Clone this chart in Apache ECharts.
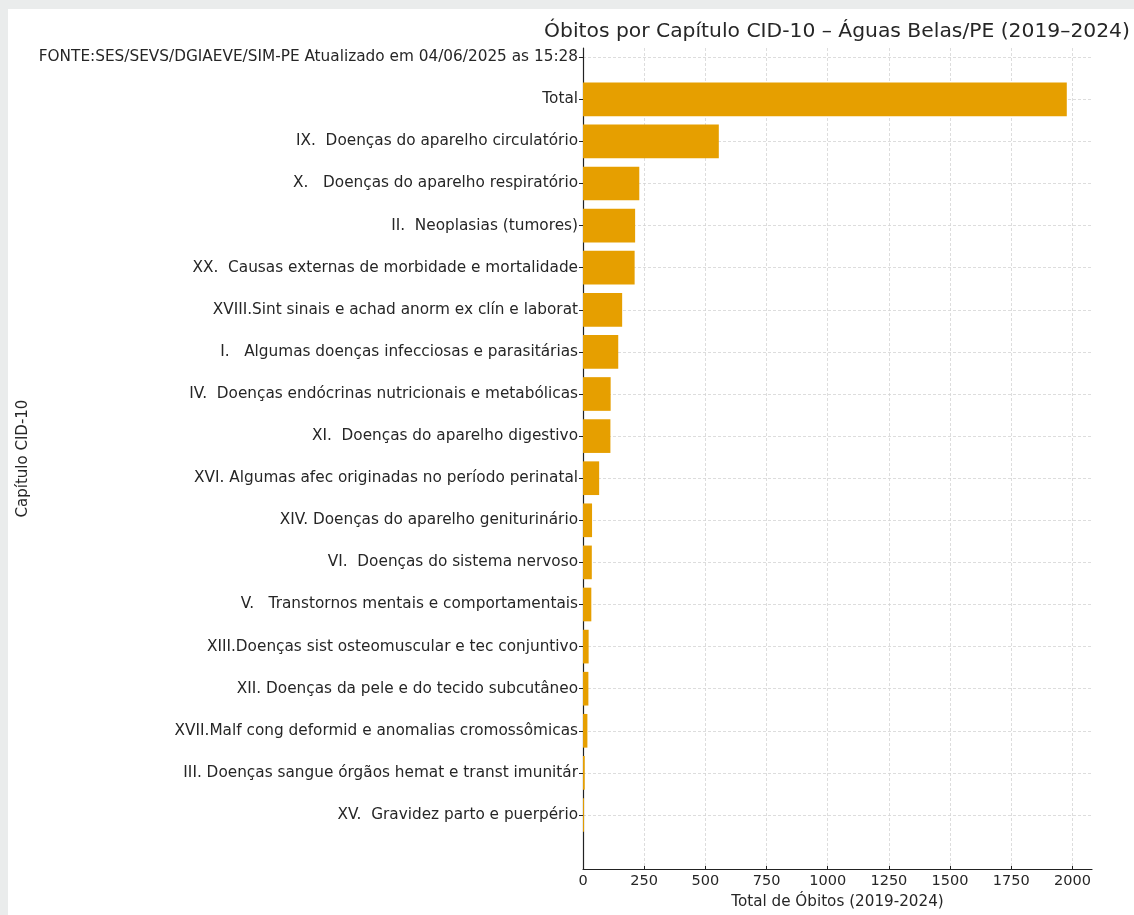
<!DOCTYPE html>
<html>
<head>
<meta charset="utf-8">
<script src="https://cdn.jsdelivr.net/npm/echarts@6/dist/echarts.min.js"></script>
<style>
html,body{margin:0;padding:0;background:#eaecec;width:1134px;height:915px;overflow:hidden;}
#card{position:absolute;left:8px;top:9px;right:0;bottom:0;background:#ffffff;}
#chart{position:absolute;left:0;top:0;width:1134px;height:915px;}
</style>
</head>
<body>
<div id="card"></div>
<div id="chart"></div>
<script>
// ---- data (top to bottom) ----
const categories = [
  "FONTE:SES/SEVS/DGIAEVE/SIM-PE Atualizado em 04/06/2025 as 15:28",
  "Total",
  "IX.  Doenças do aparelho circulatório",
  "X.   Doenças do aparelho respiratório",
  "II.  Neoplasias (tumores)",
  "XX.  Causas externas de morbidade e mortalidade",
  "XVIII.Sint sinais e achad anorm ex clín e laborat",
  "I.   Algumas doenças infecciosas e parasitárias",
  "IV.  Doenças endócrinas nutricionais e metabólicas",
  "XI.  Doenças do aparelho digestivo",
  "XVI. Algumas afec originadas no período perinatal",
  "XIV. Doenças do aparelho geniturinário",
  "VI.  Doenças do sistema nervoso",
  "V.   Transtornos mentais e comportamentais",
  "XIII.Doenças sist osteomuscular e tec conjuntivo",
  "XII. Doenças da pele e do tecido subcutâneo",
  "XVII.Malf cong deformid e anomalias cromossômicas",
  "III. Doenças sangue órgãos hemat e transt imunitár",
  "XV.  Gravidez parto e puerpério"
];
const obitos = [0, 1977, 555, 230, 213, 211, 160, 144, 113, 112, 66, 37, 36, 34, 23, 22, 18, 7, 4];
const xTickValues = [0, 250, 500, 750, 1000, 1250, 1500, 1750, 2000];
const titleText = "Óbitos por Capítulo CID-10 – Águas Belas/PE (2019–2024)";
const xAxisTitle = "Total de Óbitos (2019-2024)";
const yAxisTitle = "Capítulo CID-10";

// ---- layout ----
const FONT = "DejaVu Sans";
const TXT = "#262626";
const AX_LEFT = 583, AX_W = 509;
const BAND = 42.1;
const FIRST_CENTER = 57.2;
const X_MAX = 2080;
const SPINE_TOP = 48, SPINE_BOTTOM = 869;
const gridLine = {color: "#d4d4d4", width: 0.8, type: [3, 2]};

const chart = echarts.init(document.getElementById("chart"), null, {renderer: "canvas"});
const n = categories.length;

const option = {
  backgroundColor: "transparent",
  animation: false,
  textStyle: {fontFamily: FONT},
  title: {
    text: titleText,
    left: 832,
    top: 17,
    textAlign: "center",
    textStyle: {fontFamily: FONT, fontSize: 20.3, fontWeight: "normal", color: TXT}
  },
  grid: [
    {left: AX_LEFT, width: AX_W, top: FIRST_CENTER - BAND / 2, height: BAND * n, outerBoundsMode: "none", containLabel: false},
    {left: AX_LEFT, width: AX_W, top: SPINE_TOP, height: SPINE_BOTTOM - SPINE_TOP, outerBoundsMode: "none", containLabel: false},
    {left: AX_LEFT, width: AX_W, top: FIRST_CENTER, height: BAND * (n - 1), outerBoundsMode: "none", containLabel: false}
  ],
  xAxis: [
    {gridIndex: 0, type: "value", min: 0, max: X_MAX, show: false},
    {
      gridIndex: 1, type: "value", min: 0, max: X_MAX,
      name: xAxisTitle, nameLocation: "middle", nameGap: 26,
      nameTextStyle: {fontFamily: FONT, fontSize: 15.2, color: TXT},
      axisLine: {show: true, lineStyle: {color: "#222", width: 1.2}},
      axisTick: {show: true, inside: true, length: 3, customValues: xTickValues, lineStyle: {color: "#222"}},
      axisLabel: {fontFamily: FONT, fontSize: 14.5, color: TXT, margin: 5, customValues: xTickValues,
        formatter: v => String(v)},
      splitLine: {show: true, lineStyle: gridLine}
    },
    {gridIndex: 2, type: "value", min: 0, max: X_MAX, show: false}
  ],
  yAxis: [
    {
      gridIndex: 0, type: "category", inverse: true, data: categories,
      axisLine: {show: false},
      axisTick: {show: true, alignWithLabel: true, length: 4, interval: 0, lineStyle: {color: "#222"}},
      axisLabel: {interval: 0, fontFamily: FONT, fontSize: 15.3, color: TXT, margin: 5},
      splitLine: {show: false}
    },
    {
      gridIndex: 1, type: "value", min: 0, max: 1,
      name: yAxisTitle, nameLocation: "middle", nameGap: 552, nameRotate: 90,
      nameTextStyle: {fontFamily: FONT, fontSize: 15, color: TXT},
      axisLine: {show: true, lineStyle: {color: "#222", width: 1.2}},
      axisTick: {show: false}, axisLabel: {show: false}, splitLine: {show: false}
    },
    {
      gridIndex: 2, type: "category", inverse: true, data: categories, boundaryGap: false,
      axisLine: {show: false}, axisTick: {show: false}, axisLabel: {show: false, interval: 0},
      splitLine: {show: true, interval: 0, lineStyle: gridLine}
    }
  ],
  series: [{
    type: "bar",
    xAxisIndex: 0, yAxisIndex: 0,
    data: obitos,
    barWidth: "80%",
    z: 5,
    itemStyle: {color: "#E69F00"}
  }]
};
chart.setOption(option);
</script>
</body>
</html>
